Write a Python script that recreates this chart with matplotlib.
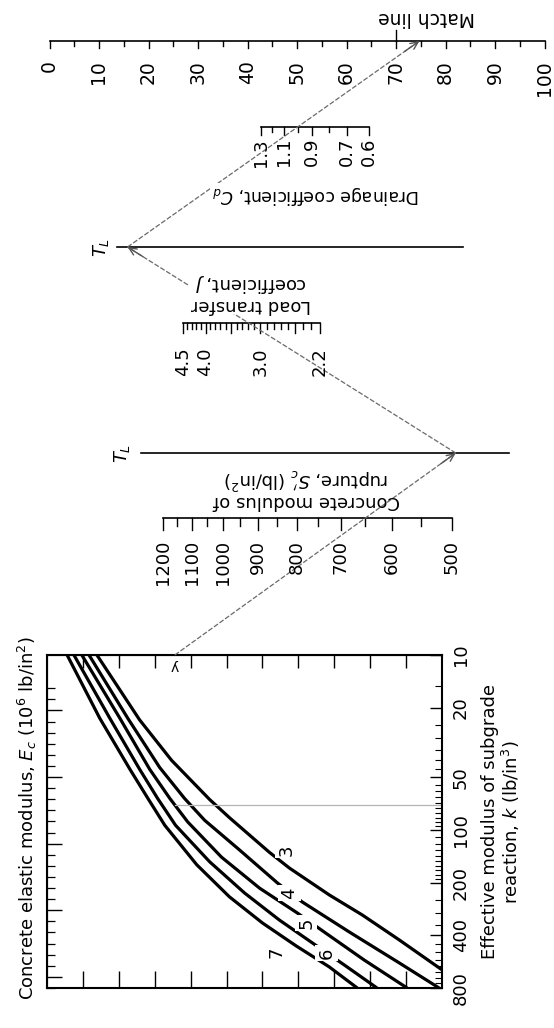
import numpy as np
import matplotlib
matplotlib.use("Agg")
import matplotlib.pyplot as plt
from matplotlib.ticker import NullFormatter, FixedLocator

W, H = 554, 1028

# ---- segment 1: subgrade k against concrete modulus Ec (10^6 psi)
k_major = [10, 20, 50, 100, 200, 400, 800]
k_minor = [15, 25, 30, 35, 40, 45, 55, 60, 65, 70, 75, 80, 85, 90, 95,
           110, 120, 130, 140, 150, 160, 170, 180, 190,
           250, 300, 350, 450, 500, 550, 600, 650, 700, 750]

# curves: x in box units (0..11), k in pci
u_ec3 = [1.39, 2.58, 3.47, 4.53, 5.08, 6.19, 6.75, 7.86, 8.78, 9.81, 11.0]
k_ec3 = [10, 23.5, 40, 67, 85, 134, 165, 235, 306, 425, 630]
u_ec4 = [1.17, 2.25, 3.14, 3.83, 4.39, 5.36, 6.42, 7.11, 8.42, 9.81, 10.92]
k_ec4 = [10, 23, 44, 66, 88, 130, 201, 258, 383, 575, 800]
u_ec5 = [0.97, 2.03, 2.86, 3.42, 3.92, 4.86, 5.92, 6.97, 7.72, 8.83, 10.03]
k_ec5 = [10, 23, 45, 66, 90, 143, 215, 298, 383, 553, 800]
u_ec6 = [0.75, 1.75, 2.58, 3.08, 3.58, 4.53, 5.5, 6.47, 7.39, 8.28, 9.19]
k_ec6 = [10, 23, 45, 66, 94, 152, 229, 327, 442, 591, 800]
u_ec7 = [0.56, 1.47, 2.31, 2.81, 3.28, 4.17, 5.08, 6.0, 6.94, 7.86, 8.64]
k_ec7 = [10, 23, 45, 66, 94, 158, 241, 340, 460, 606, 800]
ec_names = ["3", "4", "5", "6", "7"]

# unlabeled scale on left edge of the box
left_ticks = list(range(3, 31))
left_long = [5, 11, 17, 23, 29]

# ---- nomograph scales
match_ticks = list(range(0, 101, 5))
match_labels = list(range(0, 101, 10))
match_mark = 70
cd_ticks = [1.3, 1.2, 1.1, 1.0, 0.9, 0.8, 0.7, 0.6]
cd_labels = [1.3, 1.1, 0.9, 0.7, 0.6]
j_ticks = [round(2.2 + 0.1 * i, 1) for i in range(24)]
j_long = [2.5, 3.0, 3.5, 4.0, 4.5]
j_labels = [4.5, 4.0, 3.0, 2.2]
sc_ticks = list(range(500, 1201, 50))
sc_labels = list(range(500, 1201, 100))

# worked example drawn on the chart
k_ex = 72
sc_ex = 650
j_ex = 3.2
cd_ex = 1.0

# scale placement (pixels of the page)
def match_x(v):
    return 49.5 + 4.95 * v

def cd_x(v):
    return 261 + 321 * np.log10(1.3 / v)

def j_x(v):
    return 183 + 440 * np.log10(4.5 / v)

def sc_x(v):
    return 163 + 760 * np.log10(1200 / v)

Y_MATCH, Y_CD, Y_TL2, Y_J, Y_TL1, Y_SC = 41, 127, 247, 322.7, 453, 518

fig = plt.figure(figsize=(W / 100, H / 100), dpi=100)

# ---- box with Ec curves
bx = fig.add_axes([47 / W, 1 - 988 / H, (442 - 47) / W, (988 - 655) / H])
bx.set_xlim(0, 11)
bx.set_yscale("log")
bx.set_ylim(800, 10)
for s in bx.spines.values():
    s.set_linewidth(1.5)

bx.set_xticks(range(1, 11))
bx.tick_params(axis="x", which="both", direction="in", top=False, bottom=True,
               labelbottom=False, length=12, width=1)
tx = bx.secondary_xaxis("top")
tx.set_xticks(range(1, 11))
tx.tick_params(direction="in", length=9, width=1, labeltop=False)

bx.yaxis.tick_right()
bx.set_yticks(k_major)
bx.set_yticklabels([str(k) for k in k_major], rotation=90, va="center", fontsize=13)
bx.yaxis.set_minor_locator(FixedLocator(k_minor))
bx.yaxis.set_minor_formatter(NullFormatter())
bx.tick_params(axis="y", which="major", direction="in", length=9, width=1, pad=7,
               left=False, right=True)
bx.tick_params(axis="y", which="minor", direction="in", length=5, width=0.8,
               left=False, right=True)

ly = bx.secondary_yaxis("left", functions=(lambda k: 175 * np.log10(np.asarray(k) / 10) / 11.1,
                                           lambda s: 10 * 10 ** (np.asarray(s) * 11.1 / 175)))
ly.yaxis.set_major_locator(FixedLocator(left_long))
ly.yaxis.set_minor_locator(FixedLocator([t for t in left_ticks if t not in left_long]))
ly.yaxis.set_minor_formatter(NullFormatter())
ly.tick_params(which="major", direction="in", length=11, width=1, labelleft=False)
ly.tick_params(which="minor", direction="in", length=6, width=0.9)

curves_u = [u_ec3, u_ec4, u_ec5, u_ec6, u_ec7]
curves_k = [k_ec3, k_ec4, k_ec5, k_ec6, k_ec7]
for uu, kk in zip(curves_u, curves_k):
    bx.plot(uu, kk, color="black", lw=2.3, solid_capstyle="butt")

label_pos = {"3": (6.67, 130), "4": (6.75, 229), "5": (7.22, 340),
             "6": (7.78, 505), "7": (6.39, 498)}
for name in ec_names:
    lu, lk = label_pos[name]
    bx.text(lu, lk, name, rotation=90, ha="center", va="center", fontsize=13,
            zorder=4, bbox=dict(fc="white", ec="none", pad=1.5))

# turning point on the Ec = 5 curve at the example k
u_turn = np.interp(np.log10(k_ex), np.log10(k_ec5), u_ec5)
bx.plot([u_turn, 11], [k_ex, k_ex], color="#b5b5b5", lw=0.9)

bx.text(-0.55, 85, "Concrete elastic modulus, $E_c$ (10$^6$ lb/in$^2$)",
        rotation=90, ha="center", va="center", fontsize=13)
bx.text(12.67, 90, "Effective modulus of subgrade\nreaction, $k$ (lb/in$^3$)",
        rotation=90, ha="center", va="center", fontsize=13, multialignment="center",
        linespacing=1.05)

# ---- page layer for the nomograph
ax = fig.add_axes([0, 0, 1, 1])
ax.set_xlim(0, W)
ax.set_ylim(H, 0)
ax.axis("off")

def draw_scale(pos, y, ticks, long_ticks, labels, fmt, label_top, long_len, short_len, fs=13):
    ax.plot([pos(ticks[0]), pos(ticks[-1])], [y, y], color="black", lw=1.2)
    for t in ticks:
        ln = long_len if any(abs(t - l) < 1e-6 for l in long_ticks) else short_len
        ax.plot([pos(t), pos(t)], [y, y + ln], color="black", lw=1.0)
    for l in labels:
        ax.text(pos(l), label_top, fmt(l), rotation=90, ha="center", va="top", fontsize=fs)

draw_scale(match_x, Y_MATCH, match_ticks, match_labels, match_labels, lambda v: str(v),
           60, 7, 5, fs=13.5)
draw_scale(cd_x, Y_CD, cd_ticks, cd_labels, cd_labels, lambda v: f"{v:.1f}",
           138, 8, 5)
draw_scale(j_x, Y_J, j_ticks, j_long + [2.2], j_labels, lambda v: f"{v:.1f}",
           347, 10, 6)
draw_scale(sc_x, Y_SC, sc_ticks, sc_labels, sc_labels, lambda v: str(v),
           540, 12, 8)

# match line marker
ax.plot([match_x(match_mark)] * 2, [Y_MATCH, Y_MATCH - 11], color="black", lw=1.0)

# turning lines T_L
ax.plot([117, 463], [Y_TL2, Y_TL2], color="black", lw=1.2)
ax.plot([141, 509], [Y_TL1, Y_TL1], color="black", lw=1.2)
ax.text(101, Y_TL2, "$T_L$", rotation=90, ha="center", va="center", fontsize=13)
ax.text(122, Y_TL1, "$T_L$", rotation=90, ha="center", va="center", fontsize=13)

# scale titles (upside down as printed)
ax.text(427, 17, "Match line", rotation=180, ha="center", va="center", fontsize=13.5)
ax.text(316, 195, "Drainage coefficient, $C_d$", rotation=180, ha="center", va="center",
        fontsize=12.5, zorder=5, bbox=dict(fc="white", ec="none", pad=1))
ax.text(251, 293, "Load transfer\ncoefficient, $J$", rotation=180, ha="center", va="center",
        fontsize=13, multialignment="center", linespacing=1.15, zorder=5,
        bbox=dict(fc="white", ec="none", pad=1))
ax.text(306, 488, "Concrete modulus of\nrupture, $S_c'$ (lb/in$^2$)", rotation=180,
        ha="center", va="center", fontsize=13, multialignment="center", linespacing=1.1)

# ---- example path through the nomograph
p0 = ax.transData.inverted().transform(bx.transData.transform((u_turn, 10)))

def extend(a, b, y):
    return a[0] + (b[0] - a[0]) * (y - a[1]) / (b[1] - a[1])

r_pt = (sc_x(sc_ex), Y_SC)
piv1 = (extend(p0, r_pt, Y_TL1), Y_TL1)
j_pt = (j_x(j_ex), Y_J)
piv2 = (extend(piv1, j_pt, Y_TL2), Y_TL2)
cd_pt = (cd_x(cd_ex), Y_CD)
m_pt = (extend(piv2, cd_pt, Y_MATCH), Y_MATCH)

path_kw = dict(color="#6a6a6a", lw=0.9, ls=(0, (4, 1.5)))
for a, b in [(p0, piv1), (piv1, piv2), (piv2, m_pt)]:
    ax.plot([a[0], b[0]], [a[1], b[1]], zorder=2, **path_kw)
    d = np.array(b) - np.array(a)
    back = np.array(b) - d / np.hypot(*d) * 18
    ax.annotate("", xy=b, xytext=back,
                arrowprops=dict(arrowstyle="->,head_length=0.55,head_width=0.25",
                                color="#555555", lw=1.0, shrinkA=0, shrinkB=0))

ax.text(p0[0], p0[1] + 13, "ʎ", ha="center", va="center", fontsize=10)

fig.savefig("out.png", dpi=100)
